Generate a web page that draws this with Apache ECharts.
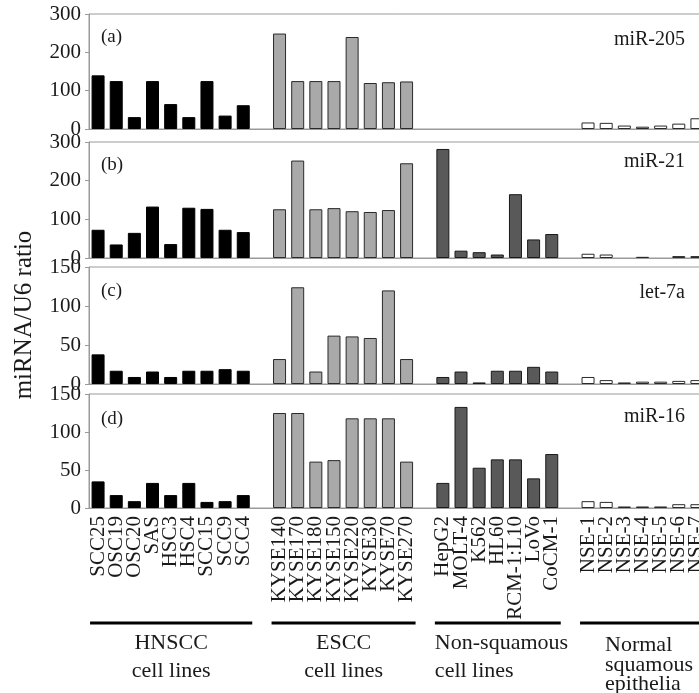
<!DOCTYPE html>
<html>
<head>
<meta charset="utf-8">
<script src="https://cdn.jsdelivr.net/npm/echarts@6/dist/echarts.min.js"></script>
<style>
  html, body { margin: 0; padding: 0; background: #fff; }
  #chart { width: 699px; height: 693px; }
</style>
</head>
<body>
<div id="chart"></div>
<script>
// cell line names, per group
const hnscc = ['SCC25', 'OSC19', 'OSC20', 'SAS', 'HSC3', 'HSC4', 'SCC15', 'SCC9', 'SCC4']
const escc = ['KYSE140', 'KYSE170', 'KYSE180', 'KYSE150', 'KYSE220', 'KYSE30', 'KYSE70', 'KYSE270']
const nonSquamous = ['HepG2', 'MOLT-4', 'K562', 'HL60', 'RCM-1:L10', 'LoVo', 'CoCM-1']
const normal = ['NSE-1', 'NSE-2', 'NSE-3', 'NSE-4', 'NSE-5', 'NSE-6', 'NSE-7']

// miRNA/U6 ratio, in the order hnscc, escc, nonSquamous, normal
const mir205 = [140, 125, 31, 125, 65, 31, 125, 35, 62,
  249, 125, 125, 125, 240, 120, 122, 124,
  0, 0, 0, 0, 0, 0, 0,
  17, 16, 9, 6, 9, 14, 28]
const mir21 = [73, 35, 65, 133, 36, 130, 127, 73, 67,
  126, 252, 126, 129, 121, 119, 124, 245,
  282, 19, 15, 9, 165, 48, 62,
  11, 9, 0, 3, 0, 5, 5]
const let7a = [38, 17, 9, 16, 9, 17, 17, 19, 17,
  32, 124, 16, 62, 61, 59, 120, 32,
  9, 16, 2, 17, 17, 22, 16,
  9, 5, 2, 3, 3, 4, 5]
const mir16 = [35, 17, 9, 33, 17, 33, 8, 9, 17,
  125, 125, 61, 63, 118, 118, 118, 61,
  33, 133, 53, 64, 64, 39, 71,
  9, 8, 2, 2, 2, 5, 5]

const panelNames = ['miR-205', 'miR-21', 'let-7a', 'miR-16']
const panelTags = ['(a)', '(b)', '(c)', '(d)']
const panelMax = [300, 300, 150, 150]
const panelStep = [100, 100, 50, 50]

const groupList = [hnscc, escc, nonSquamous, normal]
const groupStyle = [
  { color: '#000000', borderColor: '#000000' },
  { color: '#a9a9a9', borderColor: '#2a2a2a' },
  { color: '#595959', borderColor: '#1a1a1a' },
  { color: '#ffffff', borderColor: '#2a2a2a' }
]

const serif = '"Liberation Serif", "Times New Roman", serif'
const axisGray = '#9a9a9a'

// categories with an empty slot between groups
const categories = []
const groupIdx = [] // [first, last] category index of each group
groupList.forEach(function (g, gi) {
  if (gi > 0) categories.push(' '.repeat(gi))
  groupIdx.push([categories.length, categories.length + g.length - 1])
  g.forEach(function (n) { categories.push(n) })
})

function buildData (values) {
  const out = []
  let k = 0
  groupList.forEach(function (g, gi) {
    if (gi > 0) out.push('-')
    g.forEach(function () {
      const v = values[k++]
      out.push({
        value: v,
        itemStyle: Object.assign({ borderWidth: v === 0 ? 0 : 1 }, groupStyle[gi])
      })
    })
  })
  return out
}

const gridPos = [
  { top: 14, height: 115 },
  { top: 142, height: 116 },
  { top: 267, height: 117 },
  { top: 394, height: 114 }
]
const panelValues = [mir205, mir21, let7a, mir16]
const tagTop = [28, 156, 282, 410]
const nameTop = [30, 152, 283, 407]

const grid = []
const xAxis = []
const yAxis = []
const series = []
const title = []
gridPos.forEach(function (p, i) {
  grid.push({
    left: 89,
    width: 617, // runs past the right edge, as the figure is cropped there
    top: p.top,
    height: p.height,
    outerBoundsMode: 'none',
    show: true,
    borderColor: axisGray,
    borderWidth: 1
  })
  xAxis.push({
    type: 'category',
    gridIndex: i,
    data: categories,
    axisLine: { lineStyle: { color: axisGray } },
    axisTick: { show: false },
    axisLabel: {
      show: i === 3,
      interval: 0,
      rotate: 90,
      margin: 8,
      color: '#1a1a1a',
      fontSize: 21,
      fontFamily: serif
    }
  })
  yAxis.push({
    type: 'value',
    gridIndex: i,
    min: 0,
    max: panelMax[i],
    interval: panelStep[i],
    axisLine: { show: true, lineStyle: { color: axisGray } },
    axisTick: { show: true, length: 4, lineStyle: { color: axisGray } },
    splitLine: { show: false },
    axisLabel: { color: '#1a1a1a', fontSize: 21, fontFamily: serif, margin: 8 }
  })
  series.push({
    type: 'bar',
    xAxisIndex: i,
    yAxisIndex: i,
    barWidth: 13,
    silent: true,
    data: buildData(panelValues[i])
  })
  title.push({
    text: panelTags[i],
    left: 101,
    top: tagTop[i],
    padding: 0,
    textStyle: { fontSize: 19, fontWeight: 'normal', fontFamily: serif, color: '#1a1a1a' }
  })
  title.push({
    text: panelNames[i],
    right: 14,
    top: nameTop[i],
    padding: 0,
    textStyle: { fontSize: 20, fontWeight: 'normal', fontFamily: serif, color: '#1a1a1a' }
  })
})

const chart = echarts.init(document.getElementById('chart'))
chart.setOption({
  animation: false,
  title: title,
  grid: grid,
  xAxis: xAxis,
  yAxis: yAxis,
  series: series
})

// group brackets under the bottom panel
const groupText = [
  { text: 'HNSCC\ncell lines', align: 'center', lh: 28, dx: 0 },
  { text: 'ESCC\ncell lines', align: 'center', lh: 28, dx: 0 },
  { text: 'Non-squamous\ncell lines', align: 'left', lh: 28, dx: 0 },
  { text: 'Normal\nsquamous\nepithelia', align: 'left', lh: 19.5, dx: 25 }
]
const lineY = 623
const elements = []
groupIdx.forEach(function (r, gi) {
  const x0 = chart.convertToPixel({ gridIndex: 3 }, [r[0], 0])[0] - 8
  const x1 = chart.convertToPixel({ gridIndex: 3 }, [r[1], 0])[0] + 9
  elements.push({
    type: 'line',
    silent: true,
    shape: { x1: x0, y1: lineY, x2: x1, y2: lineY },
    style: { stroke: '#000', lineWidth: 3 }
  })
  const t = groupText[gi]
  const nLines = t.text.split('\n').length
  elements.push({
    type: 'text',
    silent: true,
    x: t.align === 'center' ? (x0 + x1) / 2 : x0 + t.dx,
    y: nLines === 2 ? 657 : 665,
    style: {
      text: t.text,
      font: '22px ' + serif,
      fill: '#1a1a1a',
      align: t.align,
      verticalAlign: 'middle',
      lineHeight: t.lh
    }
  })
})
elements.push({
  type: 'text',
  silent: true,
  x: 24,
  y: 315,
  rotation: Math.PI / 2,
  style: {
    text: 'miRNA/U6 ratio',
    font: '25px ' + serif,
    fill: '#1a1a1a',
    align: 'center',
    verticalAlign: 'middle'
  }
})
chart.setOption({ graphic: { elements: elements } })
</script>
</body>
</html>
